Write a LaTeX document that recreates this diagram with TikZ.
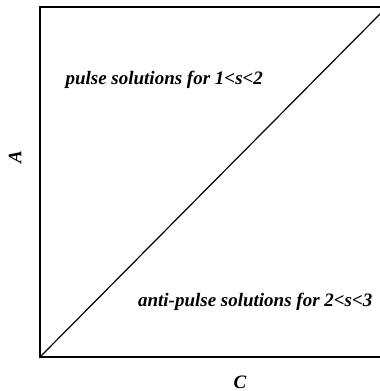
\documentclass[tikz,border=0pt]{standalone}
\usepackage{fontspec}
\setmainfont{Liberation Serif}
\usetikzlibrary{calc}

\begin{document}
\begin{tikzpicture}[x=1pt, y=1pt, line cap=rect]
	\def\lw{1.5pt}		% frame line width
	\def\dlw{1.2pt}		% diagonal line width
	\def\fs{\fontsize{19}{22}\selectfont\bfseries\itshape}	% label font

	\useasboundingbox (0, 0) rectangle (380, 391);

	% Frame corners
	\coordinate (o) at (40, 34);		% origin, lower left
	\coordinate (tl) at (40, 384);		% upper left
	\coordinate (tr) at (381, 384);		% upper right (cut by page)
	\coordinate (br) at (381, 34);		% lower right (cut by page)
	\coordinate (e) at (381, 378);		% end of the diagonal

	% Frame and border line
	\draw[line width=\lw] (tr) -- (tl) -- (o) -- (br);
	\draw[line width=\dlw] (o) -- (e);

	% Regions
	\node[font=\fs, anchor=base west] (pulse) at (62, 306) {pulse solutions for 1<s<2};
	\node[font=\fs, anchor=base east] (anti) at (376, 84) {anti-pulse solutions for 2<s<3};

	% Axes
	\node[font=\fs, rotate=90] (A) at (15, 234) {A};
	\node[font=\fs] (C) at (240, 9) {C};
\end{tikzpicture}
\end{document}
